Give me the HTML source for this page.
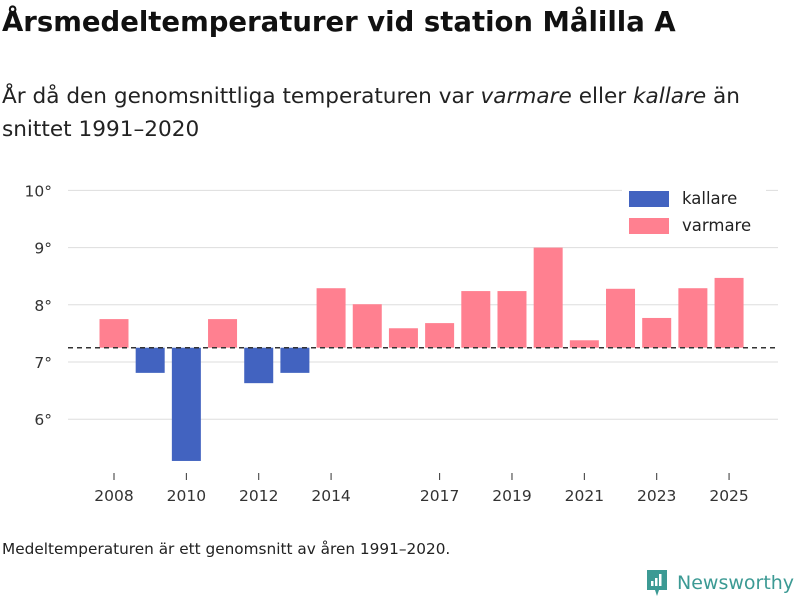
<!DOCTYPE html>
<html><head><meta charset="utf-8"><style>
body{margin:0;width:800px;height:600px;background:#fff;font-family:"DejaVu Sans","Liberation Sans",sans-serif;color:#222;overflow:hidden;position:relative}
h1{position:absolute;left:2px;top:6px;margin:0;font-size:27.5px;font-weight:bold;color:#111}
.sub{position:absolute;left:2px;top:80px;font-size:21.6px;line-height:33px;color:#222}
.foot{position:absolute;left:2px;top:540px;font-size:15.3px;color:#222}
</style></head><body>
<h1>Årsmedeltemperaturer vid station Målilla A</h1>
<div class="sub">År då den genomsnittliga temperaturen var <i>varmare</i> eller <i>kallare</i> än<br>snittet 1991–2020</div>
<svg id="c" width="800" height="600" style="position:absolute;left:0;top:0"></svg>
<div class="foot">Medeltemperaturen är ett genomsnitt av åren 1991–2020.</div>
<div style="position:absolute;left:645px;top:568px;display:flex;align-items:center">
<svg width="24" height="30"><path d="M2 2h20v20h-8l-2 6-2-6H2z" fill="#3c9a94"/><rect x="6" y="13" width="2.5" height="5" fill="#fff"/><rect x="10" y="10" width="2.5" height="8" fill="#fff"/><rect x="14" y="6" width="2.5" height="12" fill="#fff"/></svg>
<span style="font-size:19px;color:#3c9a94;margin-left:8px;">Newsworthy</span></div>
<script>
const years=[2008,2009,2010,2011,2012,2013,2014,2015,2016,2017,2018,2019,2020,2021,2022,2023,2024,2025];
const temps=[7.75,6.81,5.27,7.75,6.63,6.81,8.29,8.01,7.59,7.68,8.24,8.24,9.0,7.38,8.28,7.77,8.29,8.47];
const baseline=7.25;
const yTicks=[6,7,8,9,10];
const xTickYears=[2008,2010,2012,2014,2017,2019,2021,2023,2025];
const svg=document.getElementById('c');const NS='http://www.w3.org/2000/svg';
const y=v=>362-(v-7)*57.2;
const x=yr=>114+(yr-2008)*36.18;
function mk(t,a,p){const e=document.createElementNS(NS,t);for(const k in a)e.setAttribute(k,a[k]);(p||svg).appendChild(e);return e;}
yTicks.forEach(t=>{
 const l=mk('line',{x1:68,x2:778,y1:y(t),y2:y(t),stroke:'#ddd','stroke-width':1});
 
 
 const tx=mk('text',{x:52,y:y(t)+6,'text-anchor':'end','font-size':15.5,fill:'#333'});tx.textContent=t+'°';
 
 
});
years.forEach((yr,i)=>{
 const v=temps[i];const top=y(Math.max(v,baseline)),bot=y(Math.min(v,baseline));
 const r=mk('rect',{x:x(yr)-14.5,y:top,width:29,height:bot-top,fill:v>=baseline?'#ff8090':'#4263c0'});
 
 
});
const bl=mk('line',{x1:68,x2:778,y1:y(baseline),y2:y(baseline),stroke:'#333','stroke-width':1.5,'stroke-dasharray':'5,4'});


xTickYears.forEach(yr=>{
 mk('line',{x1:x(yr),x2:x(yr),y1:473,y2:480,stroke:'#333'});
 const t=mk('text',{x:x(yr),y:501,'text-anchor':'middle','font-size':15.5,fill:'#333'});t.textContent=yr;
 
 
});
const lg=mk('g',{});


mk('rect',{x:622,y:186,width:144,height:56,fill:'#fff'},lg);
[['kallare','#4263c0',191],['varmare','#ff8090',218]].forEach(([n,c,yy])=>{
 mk('rect',{x:629,y:yy,width:40,height:16,fill:c},lg);
 const t=mk('text',{x:682,y:yy+13,'font-size':16.5,fill:'#222'},lg);t.textContent=n;
 
 
});
</script>
</body></html>
